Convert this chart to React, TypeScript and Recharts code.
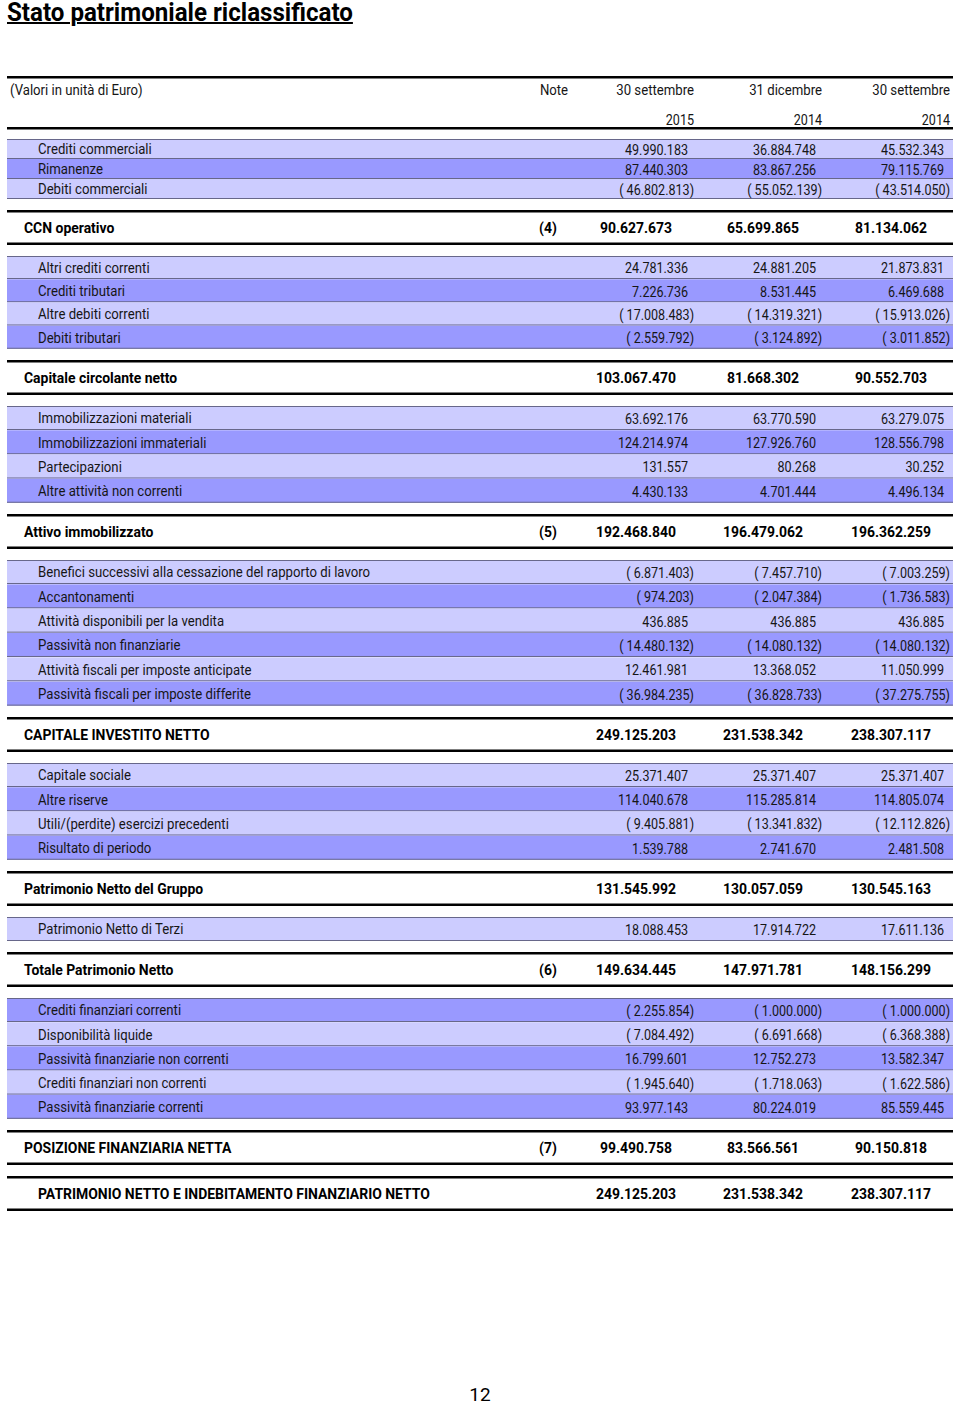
import { BarChart, Bar, XAxis, YAxis } from "recharts"

// Capitale circolante operativo
const opLabels = ["Crediti commerciali", "Rimanenze", "Debiti commerciali"]
const opSep15 = [49990183, 87440303, -46802813]
const opDic14 = [36884748, 83867256, -55052139]
const opSep14 = [45532343, 79115769, -43514050]

// Altre attività / passività correnti
const corLabels = ["Altri crediti correnti", "Crediti tributari", "Altre debiti correnti", "Debiti tributari"]
const corSep15 = [24781336, 7226736, -17008483, -2559792]
const corDic14 = [24881205, 8531445, -14319321, -3124892]
const corSep14 = [21873831, 6469688, -15913026, -3011852]

// Attivo immobilizzato
const immLabels = [
  "Immobilizzazioni materiali",
  "Immobilizzazioni immateriali",
  "Partecipazioni",
  "Altre attività non correnti",
]
const immSep15 = [63692176, 124214974, 131557, 4430133]
const immDic14 = [63770590, 127926760, 80268, 4701444]
const immSep14 = [63279075, 128556798, 30252, 4496134]

// Altre voci non correnti
const ncLabels = [
  "Benefici successivi alla cessazione del rapporto di lavoro",
  "Accantonamenti",
  "Attività disponibili per la vendita",
  "Passività non finanziarie",
  "Attività fiscali per imposte anticipate",
  "Passività fiscali per imposte differite",
]
const ncSep15 = [-6871403, -974203, 436885, -14480132, 12461981, -36984235]
const ncDic14 = [-7457710, -2047384, 436885, -14080132, 13368052, -36828733]
const ncSep14 = [-7003259, -1736583, 436885, -14080132, 11050999, -37275755]

// Patrimonio netto
const pnLabels = ["Capitale sociale", "Altre riserve", "Utili/(perdite) esercizi precedenti", "Risultato di periodo"]
const pnSep15 = [25371407, 114040678, -9405881, 1539788]
const pnDic14 = [25371407, 115285814, -13341832, 2741670]
const pnSep14 = [25371407, 114805074, -12112826, 2481508]

const terziLabels = ["Patrimonio Netto di Terzi"]
const terziSep15 = [18088453]
const terziDic14 = [17914722]
const terziSep14 = [17611136]

// Posizione finanziaria
const pfnLabels = [
  "Crediti finanziari correnti",
  "Disponibilità liquide",
  "Passività finanziarie non correnti",
  "Crediti finanziari non correnti",
  "Passività finanziarie correnti",
]
const pfnSep15 = [-2255854, -7084492, 16799601, -1945640, 93977143]
const pfnDic14 = [-1000000, -6691668, 12752273, -1718063, 80224019]
const pfnSep14 = [-1000000, -6368388, 13582347, -1622586, 85559445]

// Totali
const totalLabels = [
  "CCN operativo",
  "Capitale circolante netto",
  "Attivo immobilizzato",
  "CAPITALE INVESTITO NETTO",
  "Patrimonio Netto del Gruppo",
  "Totale Patrimonio Netto",
  "POSIZIONE FINANZIARIA NETTA",
  "PATRIMONIO NETTO E INDEBITAMENTO FINANZIARIO NETTO",
]
const totalNotes = ["(4)", "", "(5)", "", "", "(6)", "(7)", ""]
const totalSep15 = [90627673, 103067470, 192468840, 249125203, 131545992, 149634445, 99490758, 249125203]
const totalDic14 = [65699865, 81668302, 196479062, 231538342, 130057059, 147971781, 83566561, 231538342]
const totalSep14 = [81134062, 90552703, 196362259, 238307117, 130545163, 148156299, 90150818, 238307117]

const colHeads = ["30 settembre", "31 dicembre", "30 settembre"]
const colYears = ["2015", "2014", "2014"]

const W = 946
const LEFT = 7
const FONT = "Roboto, 'Noto Sans', sans-serif"
const LIGHT = "#ccccff"
const DARK = "#9999ff"
const EDGE = "#67678a"
const INK = "#161616"
const FS = 15.5
const SX_LABEL = 0.85
const SX_NUM = 0.81
const SX_BOLD = 0.9
const COLS = [687, 815, 943]
const TOTAL_COLS = [629, 756, 884]
const NOTE_X = 541
const GAP = 11
const TOTAL_H = 35

function fmt(v: number) {
  const s = Math.abs(v).toString().replace(/\B(?=(\d{3})+(?!\d))/g, ".")
  return v < 0 ? `( ${s})` : s
}

function T({
  x,
  y,
  sx,
  anchor = "start",
  bold = false,
  size = FS,
  children,
}: {
  x: number
  y: number
  sx: number
  anchor?: "start" | "middle" | "end"
  bold?: boolean
  size?: number
  children: any
}) {
  return (
    <text
      transform={`translate(${x},${y}) scale(${sx},1)`}
      textAnchor={anchor}
      dominantBaseline="central"
      fontSize={size}
      fontWeight={bold ? "bold" : "normal"}
      fill={bold ? "#000" : INK}
      fontFamily={FONT}
    >
      {children}
    </text>
  )
}

function DetailRow(props: any) {
  const { x, y, width, height, payload, index } = props
  const cy = y + height / 2 + 0.5
  const vals = [payload.a, payload.b, payload.c]
  return (
    <g>
      <rect x={x} y={y} width={width} height={height} fill={payload.dark ? DARK : LIGHT} />
      {index === 0 && <line x1={x} x2={x + width} y1={y + 0.5} y2={y + 0.5} stroke={EDGE} />}
      <line x1={x} x2={x + width} y1={y + height - 0.5} y2={y + height - 0.5} stroke={EDGE} />
      <T x={x + 31} y={cy} sx={SX_LABEL}>
        {payload.label}
      </T>
      {vals.map((v, i) => (
        <T key={i} x={x + COLS[i] - (v < 0 ? 0 : 6)} y={cy} sx={SX_NUM} anchor="end">
          {fmt(v)}
        </T>
      ))}
    </g>
  )
}

function TotalRow(props: any) {
  const { x, y, width, height, payload } = props
  const cy = y + height / 2
  const vals = [payload.a, payload.b, payload.c]
  return (
    <g>
      <rect x={x} y={y} width={width} height={height} fill="#fff" />
      <line x1={x} x2={x + width} y1={y + 1.25} y2={y + 1.25} stroke="#000" strokeWidth={2.5} />
      <line x1={x} x2={x + width} y1={y + height - 1.25} y2={y + height - 1.25} stroke="#000" strokeWidth={2.5} />
      <T x={x + (payload.indent ? 31 : 17)} y={cy} sx={SX_BOLD} bold>
        {payload.label}
      </T>
      {payload.note && (
        <T x={x + NOTE_X} y={cy} sx={SX_BOLD} anchor="middle" bold>
          {payload.note}
        </T>
      )}
      {vals.map((v, i) => (
        <T key={i} x={x + TOTAL_COLS[i]} y={cy} sx={SX_BOLD} anchor="middle" bold>
          {fmt(v)}
        </T>
      ))}
    </g>
  )
}

type Detail = {
  kind: "detail"
  labels: string[]
  a: number[]
  b: number[]
  c: number[]
  rowH: number
  darkFirst?: boolean
}
type Total = { kind: "total"; idx: number; indent?: boolean }
type Section = Detail | Total

const sections: Section[] = [
  { kind: "detail", labels: opLabels, a: opSep15, b: opDic14, c: opSep14, rowH: 20 },
  { kind: "total", idx: 0 },
  { kind: "detail", labels: corLabels, a: corSep15, b: corDic14, c: corSep14, rowH: 23.25 },
  { kind: "total", idx: 1 },
  { kind: "detail", labels: immLabels, a: immSep15, b: immDic14, c: immSep14, rowH: 24.25 },
  { kind: "total", idx: 2 },
  { kind: "detail", labels: ncLabels, a: ncSep15, b: ncDic14, c: ncSep14, rowH: 24.33 },
  { kind: "total", idx: 3 },
  { kind: "detail", labels: pnLabels, a: pnSep15, b: pnDic14, c: pnSep14, rowH: 24.25 },
  { kind: "total", idx: 4 },
  { kind: "detail", labels: terziLabels, a: terziSep15, b: terziDic14, c: terziSep14, rowH: 24 },
  { kind: "total", idx: 5 },
  { kind: "detail", labels: pfnLabels, a: pfnSep15, b: pfnDic14, c: pfnSep14, rowH: 24.2, darkFirst: true },
  { kind: "total", idx: 6 },
  { kind: "total", idx: 7, indent: true },
]

function DetailBlock({ s }: { s: Detail }) {
  const rows = s.labels.map((label, i) => ({
    label,
    a: s.a[i],
    b: s.b[i],
    c: s.c[i],
    span: 1,
    dark: i % 2 === 1 ? !s.darkFirst : !!s.darkFirst,
  }))
  return (
    <BarChart
      width={W}
      height={s.rowH * rows.length}
      data={rows}
      layout="vertical"
      margin={{ top: 0, right: 0, bottom: 0, left: 0 }}
      barCategoryGap={0}
    >
      <XAxis type="number" domain={[0, 1]} hide />
      <YAxis type="category" dataKey="label" hide />
      <Bar dataKey="span" isAnimationActive={false} shape={(p: any) => <DetailRow {...p} />} />
    </BarChart>
  )
}

function TotalBlock({ s }: { s: Total }) {
  const rows = [
    {
      label: totalLabels[s.idx],
      note: totalNotes[s.idx],
      a: totalSep15[s.idx],
      b: totalDic14[s.idx],
      c: totalSep14[s.idx],
      indent: !!s.indent,
      span: 1,
    },
  ]
  return (
    <BarChart
      width={W}
      height={TOTAL_H}
      data={rows}
      layout="vertical"
      margin={{ top: 0, right: 0, bottom: 0, left: 0 }}
      barCategoryGap={0}
    >
      <XAxis type="number" domain={[0, 1]} hide />
      <YAxis type="category" dataKey="label" hide />
      <Bar dataKey="span" isAnimationActive={false} shape={(p: any) => <TotalRow {...p} />} />
    </BarChart>
  )
}

export default function App() {
  let y = 139
  const placed = sections.map((s, i) => {
    if (i > 0) y += GAP
    const top = y
    y += s.kind === "detail" ? s.rowH * s.labels.length : TOTAL_H
    return { s, top }
  })

  const headRight = [694, 822, 950]

  return (
    <div
      style={{
        position: "absolute",
        left: 0,
        top: 0,
        width: 960,
        height: 1405,
        background: "#fff",
        fontFamily: FONT,
        color: INK,
      }}
    >
      <div
        style={{
          position: "absolute",
          left: 7,
          top: -1,
          fontSize: 25,
          lineHeight: "27px",
          fontWeight: "bold",
          textDecoration: "underline",
          textDecorationThickness: "2px",
          color: "#000",
          transform: "scaleX(0.965)",
          transformOrigin: "0 0",
          whiteSpace: "nowrap",
        }}
      >
        Stato patrimoniale riclassificato
      </div>

      <svg width={960} height={140} style={{ position: "absolute", left: 0, top: 0 }}>
        <rect x={LEFT} y={76} width={W} height={2.5} fill="#000" />
        <T x={10} y={90} sx={SX_LABEL}>
          (Valori in unità di Euro)
        </T>
        <T x={554} y={90} sx={SX_LABEL} anchor="middle">
          Note
        </T>
        {colHeads.map((h, i) => (
          <T key={"h" + i} x={headRight[i]} y={90} sx={SX_LABEL} anchor="end">
            {h}
          </T>
        ))}
        {colYears.map((h, i) => (
          <T key={"y" + i} x={headRight[i]} y={120} sx={SX_NUM} anchor="end">
            {h}
          </T>
        ))}
        <rect x={LEFT} y={127} width={W} height={2.5} fill="#000" />
      </svg>

      {placed.map(({ s, top }, i) => (
        <div key={i} style={{ position: "absolute", left: LEFT, top }}>
          {s.kind === "detail" ? <DetailBlock s={s} /> : <TotalBlock s={s} />}
        </div>
      ))}

      <div
        style={{
          position: "absolute",
          left: 430,
          width: 100,
          top: 1384,
          fontSize: 19,
          lineHeight: "22px",
          textAlign: "center",
          color: "#000",
        }}
      >
        12
      </div>
    </div>
  )
}
